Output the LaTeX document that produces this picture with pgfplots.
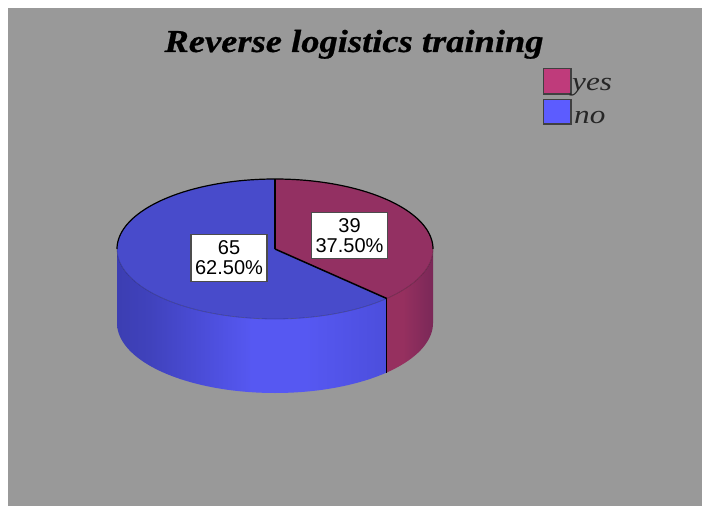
\documentclass[border=0pt]{standalone}
\usepackage{pgfplots}
\pgfplotsset{compat=1.18}
\usepackage{fontspec}
\setmainfont{Liberation Serif}
\newfontfamily\labelfont{Liberation Sans}
\newfontfamily\titlefont{Liberation Serif}[BoldItalicFeatures={FakeBold=0.6}]
\definecolor{pagegray}{HTML}{999999}
\definecolor{yesfill}{HTML}{BF3B7B}
\definecolor{nofill}{HTML}{5C5CFF}
\definecolor{yestop}{HTML}{933062}
\definecolor{notop}{HTML}{484BCB}
\definecolor{nwA}{HTML}{3C3EB2}
\definecolor{nwB}{HTML}{4042BC}
\definecolor{nwC}{HTML}{4A4CD6}
\definecolor{nwD}{HTML}{5658F2}
\definecolor{nwE}{HTML}{4C4EDC}
\definecolor{ywA}{HTML}{96305F}
\definecolor{ywB}{HTML}{7A2858}
% Horizontal lighting on the pie's side wall; a path's box spans 25bp to 75bp
\pgfdeclarehorizontalshading{nowall}{100bp}{
  color(0bp)=(nwA);color(25bp)=(nwA);color(31bp)=(nwB);color(40bp)=(nwC);
  color(50bp)=(nwD);color(60bp)=(nwD);color(75bp)=(nwE);color(100bp)=(nwE)}
\pgfdeclarehorizontalshading{yeswall}{100bp}{
  color(0bp)=(ywA);color(42bp)=(ywA);color(75bp)=(ywB);color(100bp)=(ywB)}
% Slice counts
\def\yesCount{39}
\def\noCount{65}
\pgfmathsetmacro{\cutAngle}{-90+360*\yesCount/(\yesCount+\noCount)}
% Pie geometry in picture units
\def\cx{275}\def\cy{249}\def\rx{158}\def\ry{70}\def\depth{74}
\begin{document}
\begin{tikzpicture}
\begin{axis}[
  scale only axis, width=702bp, height=506bp,
  xmin=0, xmax=702, ymin=0, ymax=506, y dir=reverse,
  hide axis, clip=true]
% Sheet and gray panel
\addplot[fill=white, draw=none] coordinates {(0,0) (702,0) (702,506) (0,506)} --cycle;
\addplot[fill=pagegray, draw=none] coordinates {(8,8) (702,8) (702,506) (8,506)} --cycle;

% Side walls: top rim out, bottom rim back
\addplot[shading=nowall, draw=none, domain=0:121, samples=122, variable=\s]
  ({\cx+\rx*cos(\s<=60 ? \cutAngle+(180-\cutAngle)*\s/60 : 180-(180-\cutAngle)*(\s-61)/60)},
   {\cy+\ry*sin(\s<=60 ? \cutAngle+(180-\cutAngle)*\s/60 : 180-(180-\cutAngle)*(\s-61)/60)+(\s<=60 ? 0 : \depth)}) --cycle;
\addplot[shading=yeswall, draw=none, domain=0:121, samples=122, variable=\s]
  ({\cx+\rx*cos(\s<=60 ? \cutAngle*\s/60 : \cutAngle-\cutAngle*(\s-61)/60)},
   {\cy+\ry*sin(\s<=60 ? \cutAngle*\s/60 : \cutAngle-\cutAngle*(\s-61)/60)+(\s<=60 ? 0 : \depth)}) --cycle;

% Top faces: centre, then the arc
\addplot[fill=notop, draw=none, domain=-1:120, samples=122, variable=\s]
  ({\cx+(\s<0 ? 0 : 1)*\rx*cos(\cutAngle+(270-\cutAngle)*\s/120)},
   {\cy+(\s<0 ? 0 : 1)*\ry*sin(\cutAngle+(270-\cutAngle)*\s/120)}) --cycle;
\addplot[fill=yestop, draw=none, domain=-1:120, samples=122, variable=\s]
  ({\cx+(\s<0 ? 0 : 1)*\rx*cos(-90+(\cutAngle+90)*\s/120)},
   {\cy+(\s<0 ? 0 : 1)*\ry*sin(-90+(\cutAngle+90)*\s/120)}) --cycle;

% Front rim, faint
\addplot[draw=black, draw opacity=0.2, line width=0.8bp, domain=0:180, samples=90, variable=\t]
  ({\cx+\rx*cos(\t)},{\cy+\ry*sin(\t)});
% Back rim and slice edges
\addplot[draw=black, line width=1.2bp, domain=180:360, samples=90, variable=\t]
  ({\cx+\rx*cos(\t)},{\cy+\ry*sin(\t)});
\addplot[draw=black, line width=1.5bp, samples at={0,1}, variable=\t]
  ({\cx},{\cy-\ry*\t});
\addplot[draw=black, line width=1.5bp, samples at={0,1}, variable=\t]
  ({\cx+\t*\rx*cos(\cutAngle)},{\cy+\t*\ry*sin(\cutAngle)});
\addplot[draw=black, line width=1.5bp, samples at={0,1}, variable=\t]
  ({\cx+\rx*cos(\cutAngle)},{\cy+\ry*sin(\cutAngle)+\t*\depth});

% Legend swatches
\addplot[fill=yesfill, draw=black!75, line width=1.2bp] coordinates {(543.5,68.5) (571,68.5) (571,94) (543.5,94)} --cycle;
\addplot[fill=nofill, draw=black!75, line width=1.2bp] coordinates {(543.5,99.5) (571,99.5) (571,124) (543.5,124)} --cycle;

\node[anchor=base west, inner sep=0pt, text=black!85, xscale=1.2] at (axis cs:572,91)
  {\fontsize{26bp}{26bp}\selectfont\itshape yes};
\node[anchor=base west, inner sep=0pt, text=black!85, xscale=1.2] at (axis cs:574,123)
  {\fontsize{26bp}{26bp}\selectfont\itshape no};

% Title
\node[anchor=base, inner sep=0pt, xscale=1.14] at (axis cs:354,52)
  {\fontsize{32bp}{32bp}\selectfont\titlefont\bfseries\itshape Reverse logistics training};

% Value labels
\node[draw=black!70, fill=white, line width=1.2bp, inner sep=0pt, minimum width=76bp, minimum height=47bp,
  align=center, font=\labelfont\fontsize{20bp}{20bp}\selectfont] at (axis cs:229,258)
  {\noCount\\62.50\%};
\node[draw=black!70, fill=white, line width=1.2bp, inner sep=0pt, minimum width=76bp, minimum height=46bp,
  align=center, font=\labelfont\fontsize{20bp}{20bp}\selectfont] at (axis cs:349.5,235.5)
  {\yesCount\\37.50\%};
\end{axis}
\end{tikzpicture}
\end{document}
